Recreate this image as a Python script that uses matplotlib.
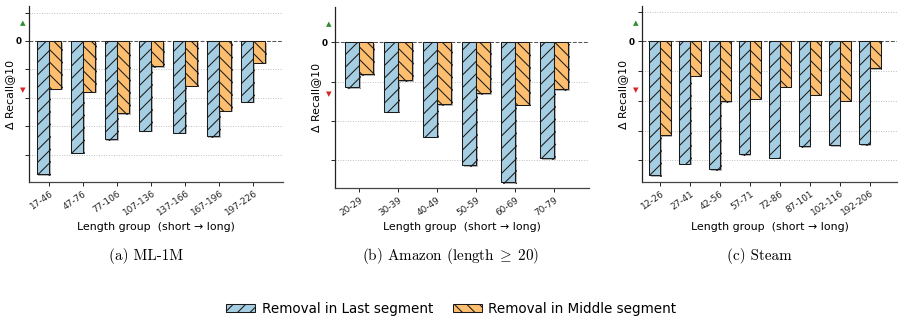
import matplotlib
matplotlib.use("Agg")
import matplotlib.pyplot as plt
import matplotlib.patheffects as pe
from matplotlib.patches import Patch
import numpy as np

# ── Data (y axis has no unit labels, so relative units) ──
ml_groups = ["17-46", "47-76", "77-106", "107-136", "137-166", "167-196", "197-226"]
ml_last = [-4.69, -3.93, -3.46, -3.16, -3.23, -3.36, -2.14]
ml_mid = [-1.68, -1.79, -2.54, -0.88, -1.58, -2.46, -0.76]

amz_groups = ["20-29", "30-39", "40-49", "50-59", "60-69", "70-79"]
amz_last = [-1.14, -1.77, -2.40, -3.13, -3.56, -2.95]
amz_mid = [-0.81, -0.97, -1.58, -1.29, -1.59, -1.20]

steam_groups = ["12-26", "27-41", "42-56", "57-71", "72-86", "87-101", "102-116", "192-206"]
steam_last = [-4.51, -4.12, -4.30, -3.80, -3.91, -3.52, -3.49, -3.46]
steam_mid = [-3.15, -1.15, -2.02, -1.93, -1.53, -1.80, -1.99, -0.91]

captions = ["(a) ML-1M", r"(b) Amazon (length$\;\geq\;$20)", "(c) Steam"]

# ── Style ──────────────────────────────────────────────────────────────────
plt.rcParams.update({
    "font.family": "DejaVu Sans",
    "mathtext.fontset": "cm",
    "hatch.linewidth": 1.0,
    "axes.linewidth": 1.2,
})

LAST_COLOR = "#a6cee3"
MID_COLOR = "#fdbf6f"
EDGE = "#1a1a1a"
W = 0.36
DPI = 75

fig = plt.figure(figsize=(903 / DPI, 324 / DPI), dpi=DPI)

panels = [
    dict(groups=ml_groups, last=ml_last, mid=ml_mid,
         rect=[0.0321, 0.4383, 0.2813, 0.5432], ylim=(-4.96, 1.23),
         xlim=(-0.59, 6.88), yticks=[1, 0, -1, -2, -3, -4]),
    dict(groups=amz_groups, last=amz_last, mid=amz_mid,
         rect=[0.371, 0.4188, 0.2813, 0.5605], ylim=(-3.72, 0.91),
         xlim=(-0.62, 5.90), yticks=[0, -1, -2, -3]),
    dict(groups=steam_groups, last=steam_last, mid=steam_mid,
         rect=[0.711, 0.4383, 0.2824, 0.5432], ylim=(-4.73, 1.19),
         xlim=(-0.60, 7.91), yticks=[1, 0, -1, -2, -3, -4]),
]

shadow = [pe.SimplePatchShadow(offset=(1.5, -1.5), shadow_rgbFace="#888888", alpha=0.6),
          pe.Normal()]

for p in panels:
    ax = fig.add_axes(p["rect"])
    x = np.arange(len(p["groups"]))
    b1 = ax.bar(x - W / 2, p["last"], W, color=LAST_COLOR, edgecolor=EDGE,
                hatch="//", linewidth=1.0, zorder=3)
    b2 = ax.bar(x + W / 2, p["mid"], W, color=MID_COLOR, edgecolor=EDGE,
                hatch="\\\\", linewidth=1.0, zorder=3)
    for bar in list(b1) + list(b2):
        bar.set_path_effects(shadow)

    ax.set_xlim(*p["xlim"])
    ax.set_ylim(*p["ylim"])
    ax.set_xticks(x)
    ax.set_xticklabels(p["groups"], rotation=35, ha="right",
                       rotation_mode="anchor", fontsize=8.5, color="#222222")
    ax.set_yticks(p["yticks"])
    ax.set_yticklabels(["0" if t == 0 else "" for t in p["yticks"]],
                       fontsize=8.5, fontweight="bold")
    for t in p["yticks"]:
        if t != 0:
            ax.axhline(t, color="#bbbbbb", linestyle=":", linewidth=0.9, zorder=0)
    ax.axhline(0, color="#555555", linestyle="--", linewidth=1.0, zorder=2)

    for side in ("top", "right"):
        ax.spines[side].set_visible(False)
    ax.spines["left"].set_color("#222222")
    ax.spines["bottom"].set_color("#444444")

    ax.set_xlabel("Length group  (short \u2192 long)", fontsize=10.5, labelpad=4)
    ax.set_ylabel("\u0394 Recall@10", fontsize=10.5)
    ax.yaxis.set_label_coords(-0.055, 0.5)

    ax.text(-0.025, 0.905, "\u25B2", transform=ax.transAxes, ha="center",
            va="center", color="#2e8b2e", fontsize=7)
    ax.text(-0.025, 0.52, "\u25BC", transform=ax.transAxes, ha="center",
            va="center", color="#d62728", fontsize=7)

for cx, cap in zip([0.1617, 0.4994, 0.8405], captions):
    fig.text(cx, 0.21, cap, ha="center", va="center", family="cmr10", fontsize=14.5)

handles = [Patch(facecolor=LAST_COLOR, edgecolor=EDGE, hatch="//", label="Removal in Last segment"),
           Patch(facecolor=MID_COLOR, edgecolor=EDGE, hatch="\\\\", label="Removal in Middle segment")]
fig.legend(handles=handles, loc="center", bbox_to_anchor=(0.5, 0.046), ncol=2,
           frameon=False, fontsize=13, handlelength=2.1, handleheight=0.55,
           handletextpad=0.5, columnspacing=1.5)

fig.savefig("out.png", dpi=DPI)
